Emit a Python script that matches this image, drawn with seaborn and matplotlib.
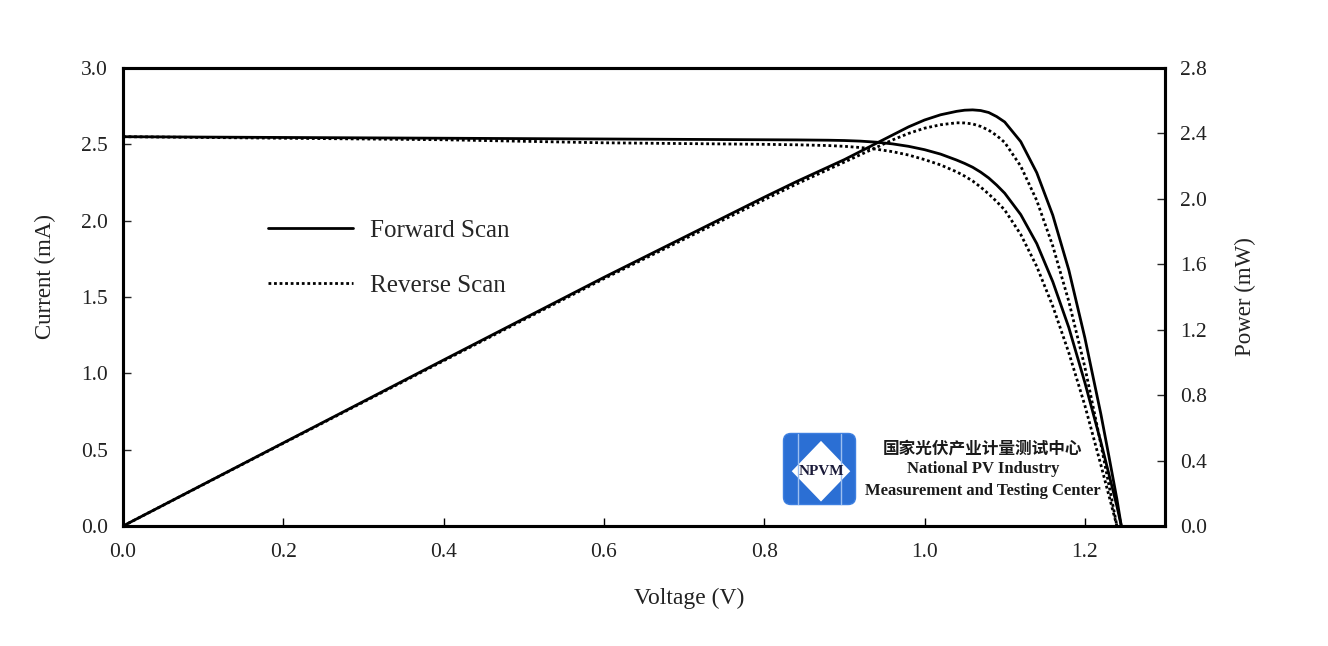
import numpy as np
import pandas as pd
import seaborn as sns
import matplotlib.pyplot as plt
from matplotlib.lines import Line2D
from matplotlib.patches import FancyBboxPatch, Polygon

# values
v_fwd = [0.0, 0.2, 0.4, 0.6, 0.8, 0.84, 0.88, 0.90, 0.92, 0.94, 0.96, 0.98,
         1.00, 1.02, 1.04, 1.05, 1.06, 1.07, 1.08, 1.09, 1.10, 1.12, 1.14,
         1.16, 1.18, 1.20, 1.22, 1.23, 1.24, 1.2455]
i_fwd = [2.55, 2.545, 2.54, 2.535, 2.53, 2.529, 2.527, 2.525, 2.521, 2.514,
         2.503, 2.487, 2.465, 2.436, 2.397, 2.375, 2.35, 2.318, 2.28, 2.233,
         2.18, 2.04, 1.85, 1.60, 1.30, 0.94, 0.55, 0.34, 0.13, 0.0]
p_fwd = [0.0, 0.508, 1.015, 1.52, 2.01, 2.105, 2.195, 2.24, 2.29, 2.34, 2.39,
         2.44, 2.482, 2.514, 2.535, 2.542, 2.544, 2.54, 2.528, 2.503, 2.47,
         2.35, 2.16, 1.90, 1.565, 1.151, 0.684, 0.427, 0.164, 0.0]

v_rev = [0.0, 0.2, 0.4, 0.6, 0.8, 0.84, 0.88, 0.90, 0.92, 0.94, 0.96, 0.98,
         1.00, 1.02, 1.04, 1.05, 1.06, 1.07, 1.08, 1.09, 1.10, 1.12, 1.14,
         1.16, 1.18, 1.20, 1.22, 1.23, 1.24]
i_rev = [2.55, 2.54, 2.53, 2.51, 2.50, 2.497, 2.492, 2.487, 2.479, 2.468,
         2.452, 2.43, 2.40, 2.365, 2.32, 2.292, 2.26, 2.22, 2.175, 2.125, 2.07,
         1.91, 1.70, 1.44, 1.135, 0.79, 0.40, 0.20, 0.0]
p_rev = [0.0, 0.506, 1.01, 1.512, 1.995, 2.09, 2.18, 2.225, 2.27, 2.315, 2.36,
         2.40, 2.432, 2.453, 2.465, 2.464, 2.458, 2.443, 2.42, 2.387, 2.345,
         2.20, 1.99, 1.712, 1.373, 0.972, 0.50, 0.252, 0.0]

scan_names = ["Forward Scan", "Reverse Scan"]
x_ticks = [0.0, 0.2, 0.4, 0.6, 0.8, 1.0, 1.2]
i_ticks = [0.0, 0.5, 1.0, 1.5, 2.0, 2.5, 3.0]
p_ticks = [0.0, 0.4, 0.8, 1.2, 1.6, 2.0, 2.4, 2.8]

df = pd.concat([
    pd.DataFrame({"Voltage": v_fwd, "Current": i_fwd, "Power": p_fwd, "Scan": scan_names[0]}),
    pd.DataFrame({"Voltage": v_rev, "Current": i_rev, "Power": p_rev, "Scan": scan_names[1]}),
], ignore_index=True)

sns.set_style("white")
plt.rcParams['font.family'] = ['Liberation Serif', 'DejaVu Serif']
plt.rcParams['font.size'] = 15.5

W, H = 1328, 646
fig = plt.figure(figsize=(W / 100, H / 100), dpi=100)
ax = fig.add_axes([123 / W, 1 - 526 / H, 1042 / W, 458 / H])
ax2 = ax.twinx()

dash_map = {scan_names[0]: "", scan_names[1]: (1, 1)}
sns.lineplot(data=df, x="Voltage", y="Current", style="Scan", dashes=dash_map,
             color="black", linewidth=2.0, estimator=None, sort=False,
             legend=False, ax=ax)
sns.lineplot(data=df, x="Voltage", y="Power", style="Scan", dashes=dash_map,
             color="black", linewidth=2.0, estimator=None, sort=False,
             legend=False, ax=ax2)

ax.set_xlim(0, 1.3)
ax.set_ylim(0, 3.0)
ax2.set_ylim(0, 2.8)
ax.set_xticks(x_ticks)
ax.set_xticklabels([f"{t:.1f}" for t in x_ticks])
ax.set_yticks(i_ticks)
ax.set_yticklabels([f"{t:.1f}" for t in i_ticks])
ax2.set_yticks(p_ticks)
ax2.set_yticklabels([f"{t:.1f}" for t in p_ticks])

ax.set_xlabel("Voltage (V)", color="#222222", fontsize=17)
ax.xaxis.set_label_coords(0.543, -0.135)
ax.set_ylabel("Current (mA)", color="#222222", fontsize=16.5)
ax.yaxis.set_label_coords(-0.064, 0.544)
ax2.set_ylabel("Power (mW)", labelpad=20, color="#222222", fontsize=16.5)

for a in (ax, ax2):
    for s in a.spines.values():
        s.set_linewidth(2.2)
        s.set_color("black")
ax.tick_params(axis="x", direction="in", length=6, width=1, pad=12.5,
               colors="black", labelcolor="#222222", bottom=True)
ax.tick_params(axis="y", direction="in", length=6, width=1, pad=11,
               left=True, labelcolor="#222222")
ax2.tick_params(axis="y", direction="in", length=6, width=1, pad=11,
                right=True, labelcolor="#222222")

handles = [Line2D([], [], color="black", linewidth=2.0),
           Line2D([], [], color="black", linewidth=2.0, linestyle=(0, (1, 1)))]
ax2.legend(handles, scan_names, loc="upper left", bbox_to_anchor=(0.139, 0.67),
           frameon=False, handlelength=3.4, handletextpad=0.68,
           labelspacing=1.3, borderpad=0, borderaxespad=0, fontsize=18)

# logo
lax = fig.add_axes([782 / W, 1 - 506 / H, 75 / W, 74 / H])
lax.set_xlim(0, 1)
lax.set_ylim(0, 1)
lax.axis("off")
lax.add_patch(FancyBboxPatch((0.02, 0.02), 0.96, 0.96,
                             boxstyle="round,pad=0,rounding_size=0.1",
                             facecolor="#2b6fd4", edgecolor="#3d7fe0", linewidth=1))
for lx in (0.21, 0.79):
    lax.plot([lx, lx], [0.03, 0.97], color="#9dbff0", linewidth=1)
lax.add_patch(Polygon([(0.52, 0.88), (0.91, 0.47), (0.52, 0.06), (0.13, 0.47)],
                      closed=True, facecolor="white", edgecolor="none"))
lax.text(0.52, 0.47, "NPVM", ha="center", va="center", fontsize=11,
         fontweight="bold", color="#1b1b3a")

fig.text(983 / W, 1 - 448 / H, "国家光伏产业计量测试中心", ha="center", va="center",
         fontsize=12, fontweight="bold", color="#1a1a1a",
         family=["Noto Sans CJK SC", "DejaVu Sans"])
fig.text(983 / W, 1 - 469 / H, "National PV Industry", ha="center", va="center",
         fontsize=12, fontweight="bold", color="#1a1a1a")
fig.text(983 / W, 1 - 491 / H, "Measurement and Testing Center", ha="center",
         va="center", fontsize=12, fontweight="bold", color="#1a1a1a")

plt.savefig("out.png", dpi=100)
